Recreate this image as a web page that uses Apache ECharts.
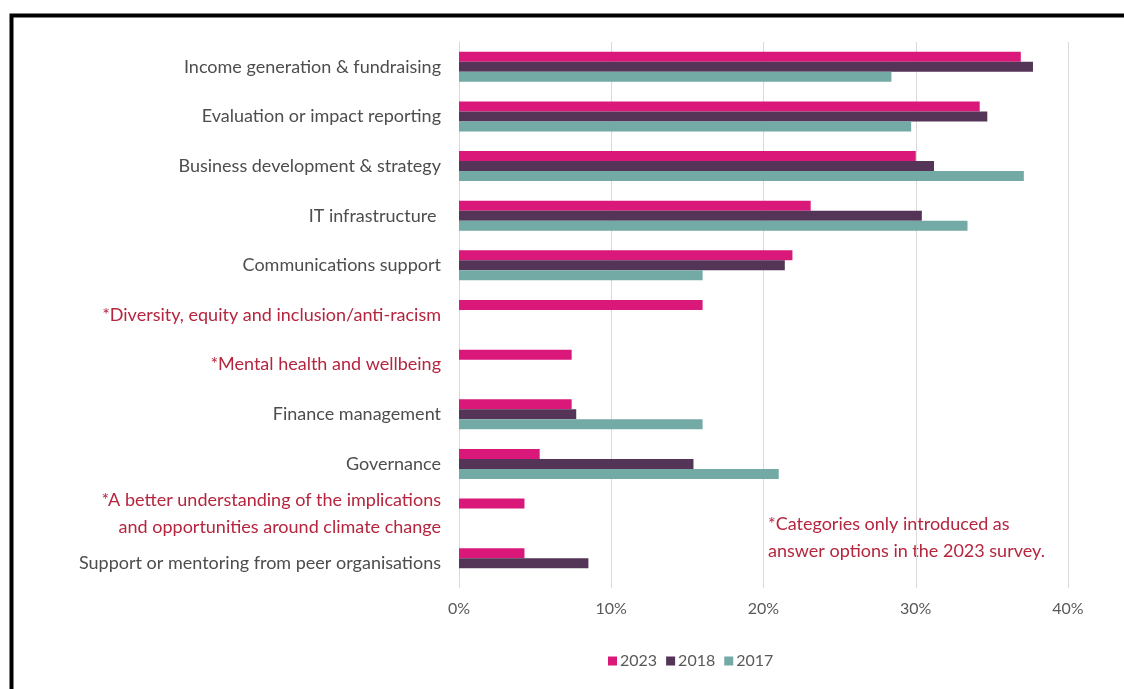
<!DOCTYPE html>
<html><head><meta charset="utf-8">
<script src="https://cdn.jsdelivr.net/npm/echarts@6/dist/echarts.min.js"></script>
<style>html,body{margin:0;padding:0;background:#fff}#c{width:1124px;height:689px}</style>
</head><body><div id="c"></div>
<script>
const categories = [
  "Income generation & fundraising",
  "Evaluation or impact reporting",
  "Business development & strategy",
  "IT infrastructure ",
  "Communications support",
  "*Diversity, equity and inclusion/anti-racism",
  "*Mental health and wellbeing",
  "Finance management",
  "Governance",
  "*A better understanding of the implications\nand opportunities around climate change",
  "Support or mentoring from peer organisations"
];
const newCategories = [5, 6, 9];
const seriesNames = ["2023", "2018", "2017"];
const values2023 = [36.9, 34.2, 30.0, 23.1, 21.9, 16.0, 7.4, 7.4, 5.3, 4.3, 4.3];
const values2018 = [37.7, 34.7, 31.2, 30.4, 21.4, null, null, 7.7, 15.4, null, 8.5];
const values2017 = [28.4, 29.7, 37.1, 33.4, 16.0, null, null, 16.0, 21.0, null, null];
const xTicks = [0, 10, 20, 30, 40];
const noteLines = ["*Categories only introduced as", "answer options in the 2023 survey."];

const colors = ["#D9187A", "#543557", "#73AAA6"];
const font = "Lato, 'Open Sans', sans-serif";

const chart = echarts.init(document.getElementById('c'), null, {renderer: 'canvas'});
const yData = categories.map((c, i) => {
  if (!newCategories.includes(i)) return {value: c};
  const ts = {color: "#B5253E"};
  if (c.indexOf('\n') >= 0) ts.padding = [0, 0, 10, 0];
  return {value: c, textStyle: ts};
});
const allVals = [values2023, values2018, values2017];
chart.setOption({
  animation: false,
  textStyle: {fontFamily: font},
  grid: {left: 459, right: 56, top: 42, bottom: 101},
  xAxis: {
    type: 'value', min: xTicks[0], max: xTicks[xTicks.length - 1], interval: 10,
    axisLabel: {formatter: '{value}%', color: '#595959', fontSize: 16, margin: 13, fontFamily: font},
    splitLine: {lineStyle: {color: '#D9D9D9', width: 1}},
    axisLine: {show: false}, axisTick: {show: false}
  },
  yAxis: {
    type: 'category', inverse: true, data: yData,
    axisLine: {show: true, lineStyle: {color: '#D9D9D9'}},
    axisTick: {show: false},
    axisLabel: {color: '#4D4D4D', fontSize: 18, margin: 18, fontFamily: font, lineHeight: 27, align: 'right'}
  },
  legend: {
    data: seriesNames, left: 603, top: 648, itemWidth: 9, itemHeight: 9, itemGap: 9,
    icon: 'rect', textStyle: {color: '#595959', fontSize: 16, fontFamily: font, padding: [0,0,0,-2]}
  },
  series: seriesNames.map((n, i) => ({
    name: n, type: 'bar', data: allVals[i], barWidth: 10, barGap: '0%',
    itemStyle: {color: colors[i]}
  })),
  graphic: [
    {type: 'rect', shape: {x: 11.5, y: 15.5, width: 1300, height: 900}, style: {fill: 'none', stroke: '#000', lineWidth: 4}, silent: true},
    {type: 'text', left: 768, top: 511, style: {text: noteLines.join('\n'), fill: '#B5253E', font: "18px " + font, lineHeight: 27}}
  ]
});
</script></body></html>
